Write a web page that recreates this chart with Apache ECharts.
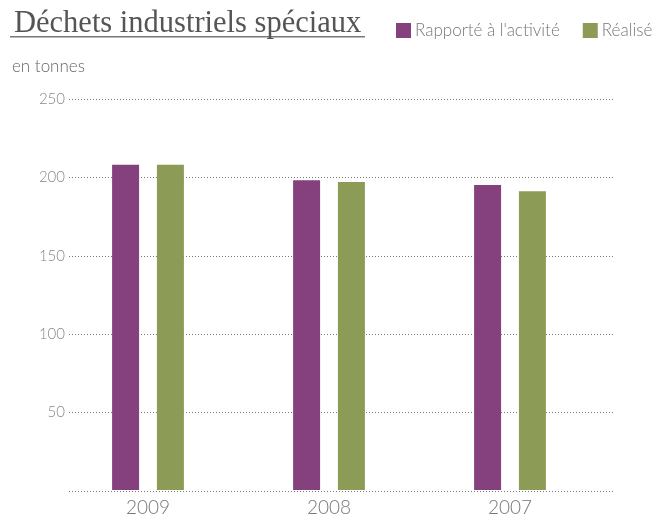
<!DOCTYPE html>
<html>
<head>
<meta charset="utf-8">
<script src="https://cdn.jsdelivr.net/npm/echarts@6/dist/echarts.min.js"></script>
<style>
  html, body { margin: 0; padding: 0; background: #fff; }
  #chart { width: 658px; height: 517px; }
</style>
</head>
<body>
<div id="chart"></div>
<script>
// Tonnages of special industrial waste per year
const years = ['2009', '2008', '2007'];
const rapporte = [208, 198, 195];
const realise = [208, 197, 191];
const seriesNames = ['Rapporté à l\'activité', 'Réalisé'];
const yTicks = { min: 0, max: 250, interval: 50 };

const sansFont = 'Lato';
const chart = echarts.init(document.getElementById('chart'));

chart.setOption({
  animation: false,
  title: {
    text: 'Déchets industriels spéciaux',
    left: 9,
    top: 3,
    textStyle: {
      fontFamily: 'Liberation Serif',
      fontSize: 30.5,
      fontWeight: 'normal',
      color: '#555'
    }
  },
  graphic: [
    { type: 'line', shape: { x1: 10, y1: 36.5, x2: 365, y2: 36.5 }, style: { stroke: '#777', lineWidth: 1 } },
    { type: 'line', shape: { x1: 10, y1: 37.5, x2: 365, y2: 37.5 }, style: { stroke: '#bbb', lineWidth: 1 } },
    {
      type: 'text', left: 12, top: 58,
      style: { text: 'en tonnes', font: '300 17px ' + sansFont, fill: '#666' }
    }
  ],
  legend: {
    left: 391,
    top: 17,
    width: 290,
    itemWidth: 15,
    itemHeight: 15,
    itemGap: 23,
    icon: 'rect',
    textStyle: { fontFamily: sansFont, fontWeight: 300, fontSize: 17, color: '#777', padding: [0, 0, 0, -1] },
    data: seriesNames
  },
  grid: [
    { left: 69, width: 544, top: 99, height: 392 },
    { left: 57.5, width: 543, top: 99, height: 392 }
  ],
  xAxis: [
    { gridIndex: 0, type: 'value', show: false, min: 0, max: 1 },
    {
      gridIndex: 1,
      type: 'category',
      data: years,
      axisLine: { show: false },
      axisTick: { show: false },
      axisLabel: { fontFamily: sansFont, fontWeight: 300, fontSize: 19, color: '#777', margin: 8 }
    }
  ],
  yAxis: [
    {
      gridIndex: 0,
      type: 'value',
      min: yTicks.min, max: yTicks.max, interval: yTicks.interval,
      axisLine: { show: false },
      axisTick: { show: false },
      axisLabel: {
        fontFamily: sansFont, fontWeight: 300, fontSize: 15, color: '#888', margin: 4,
        formatter: v => (v === 0 ? '' : String(v))
      },
      splitLine: { show: true, lineStyle: { type: [1, 2], color: '#777', width: 1 } }
    },
    {
      gridIndex: 1,
      type: 'value',
      min: yTicks.min, max: yTicks.max, interval: yTicks.interval,
      show: false,
      splitLine: { show: false }
    }
  ],
  series: [
    {
      name: seriesNames[0],
      type: 'bar',
      xAxisIndex: 1, yAxisIndex: 1,
      data: rapporte,
      barWidth: 27,
      barGap: '66%',
      itemStyle: { color: '#85417e' }
    },
    {
      name: seriesNames[1],
      type: 'bar',
      xAxisIndex: 1, yAxisIndex: 1,
      data: realise,
      barWidth: 27,
      barGap: '66%',
      itemStyle: { color: '#8c9b55' }
    }
  ]
});
</script>
</body>
</html>
